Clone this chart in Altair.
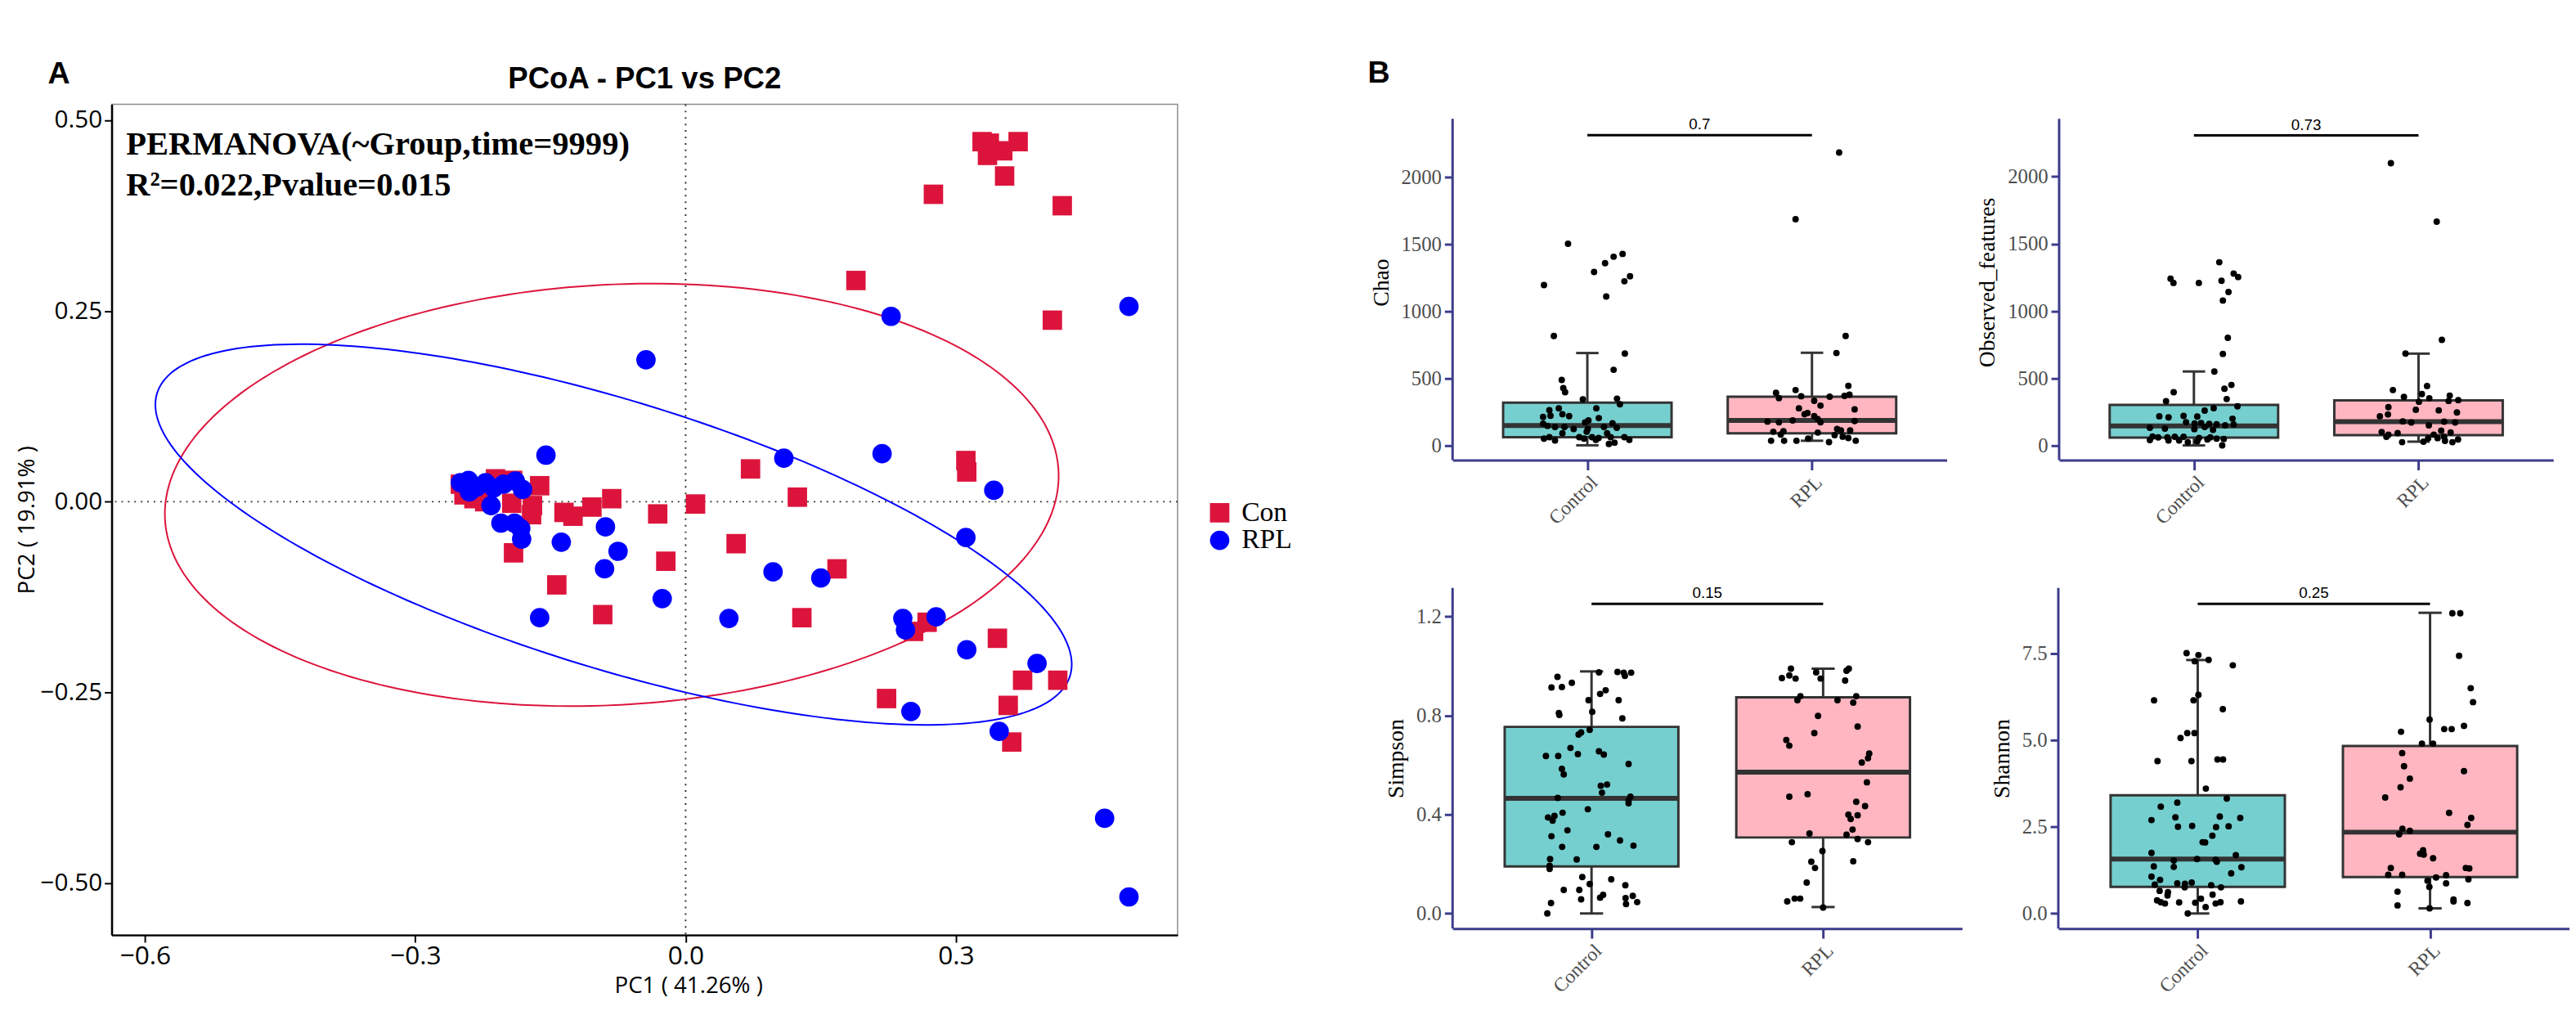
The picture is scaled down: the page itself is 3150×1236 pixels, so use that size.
import altair as alt
import numpy as np
import pandas as pd

RED = "#DC143C"
BLUE = "#0000FF"
NAVY = "#3C3C8C"
TEAL = "#76CFCF"
PINK = "#FFB6C1"
DARK = "#333333"

# ---------------- Panel A data (PCoA) ----------------
groups = ["Con", "RPL"]
con_x = [0.329, 0.337, 0.369, 0.352, 0.335, 0.354, 0.275, 0.418,
         0.189, 0.407, 0.311, 0.312, 0.072, 0.124, 0.011, -0.031, 0.056, -0.022, 0.168, 0.129,
         0.253, 0.268, 0.346, 0.374, 0.413, 0.223, 0.358, 0.362,
         -0.250, -0.211, -0.192, -0.162, -0.246, -0.235, -0.223, -0.193, -0.170, -0.171,
         -0.135, -0.125, -0.104, -0.082, -0.191, -0.143, -0.092]
con_y = [0.472, 0.470, 0.472, 0.460, 0.454, 0.427, 0.403, 0.388,
         0.290, 0.238, 0.054, 0.039, 0.043, 0.006, -0.003, -0.016, -0.055, -0.078, -0.088, -0.152,
         -0.170, -0.158, -0.179, -0.234, -0.234, -0.258, -0.267, -0.315,
         0.023, 0.030, 0.028, 0.021, 0.009, 0.004, 0.000, -0.002, -0.005, -0.017,
         -0.014, -0.019, -0.007, 0.004, -0.067, -0.109, -0.148]
rpl_x = [0.492, 0.228, -0.044, 0.218, 0.109, 0.342, 0.311, 0.097, 0.150, -0.026,
         0.048, 0.241, 0.244, 0.278, 0.312, 0.390, 0.250, 0.348, 0.465, 0.492,
         -0.155, -0.250, -0.241, -0.232, -0.222, -0.213, -0.202, -0.189, -0.181, -0.240,
         -0.216, -0.205, -0.190, -0.183, -0.182, -0.138, -0.089, -0.075, -0.090, -0.162]
rpl_y = [0.256, 0.243, 0.186, 0.063, 0.057, 0.015, -0.047, -0.092, -0.100, -0.127,
         -0.153, -0.153, -0.168, -0.151, -0.194, -0.212, -0.275, -0.301, -0.415, -0.518,
         0.061, 0.025, 0.028, 0.019, 0.025, 0.018, 0.023, 0.027, 0.016, 0.013,
         -0.005, -0.028, -0.028, -0.035, -0.049, -0.053, -0.033, -0.065, -0.088, -0.152]

# ellipse parameters: centre, semi-axes, rotation (deg)
ell_con = {"cx": -0.082, "cy": 0.009, "a": 0.4969, "b": 0.2753, "angle": 4.17}
ell_rpl = {"cx": -0.080, "cy": -0.043, "a": 0.5397, "b": 0.1719, "angle": -20.7}

perm_lines = ["PERMANOVA(~Group,time=9999)", "R\u00b2=0.022,Pvalue=0.015"]
perm_x = [-0.621, -0.621]
perm_y = [0.455, 0.401]

# ---------------- Panel B data (alpha diversity) ----------------
chao_c_val = [1503, 1195, 815, 1292, 1358, 1406, 1427, 1260, 1223, 1109,
              684, 563, 487, 427, 396, 342, 348, 306, 276, 276,
              262, 211, 221, 231, 217, 203, 185, 171, 165, 161,
              145, 137, 137, 121, 137, 131, 121, 90, 101, 89,
              50, 60, 36, 60, 50, 60, 40, 54, 60, 20, 10, 60, 40]
chao_c_dx = [-0.086, -0.193, -0.149, 0.030, 0.079, 0.117, 0.157, 0.190, 0.165, 0.084,
             0.167, 0.117, -0.114, -0.107, -0.099, -0.020, 0.132, 0.145, 0.040, -0.127,
             -0.169, -0.197, -0.164, -0.111, -0.081, 0.051, 0.005, -0.010, 0.112, -0.197,
             -0.177, -0.144, -0.102, -0.061, 0.074, 0.131, 0.002, -0.111, -0.003, 0.088,
             -0.193, -0.169, -0.144, -0.036, -0.015, 0.021, 0.038, 0.050, 0.104, 0.121,
             0.096, 0.165, 0.187]
chao_r_val = [2183, 1686, 815, 688, 443, 412, 392, 352, 366, 332,
              362, 368, 378, 296, 276, 268, 241, 231, 217, 197,
              185, 177, 171, 171, 181, 121, 111, 111, 101, 105,
              95, 80, 76, 64, 54, 50, 34, 34, 34, 24, 34]
chao_r_dx = [0.121, -0.073, 0.150, 0.109, 0.162, -0.073, -0.160, -0.147, -0.048, 0.010,
             0.079, 0.145, 0.167, 0.038, -0.058, 0.190, -0.020, -0.033, 0.010, 0.025,
             -0.086, -0.198, -0.147, 0.038, 0.190, 0.112, 0.129, 0.170, -0.172, -0.127,
             0.026, -0.139, 0.101, 0.137, 0.162, -0.017, -0.182, -0.124, -0.069, 0.076, 0.195]

obs_c_val = [1363, 1241, 1209, 1209, 1225, 1279, 1253, 1141, 1078, 801,
             681, 550, 450, 422, 396, 345, 329, 291, 277, 259,
             217, 209, 219, 215, 199, 173, 155, 163, 167, 161,
             157, 149, 131, 125, 121, 137, 116, 66, 60, 60,
             64, 64, 56, 60, 50, 40, 36, 36, 24, 30, 44, 48, 0]
obs_c_dx = [0.113, -0.104, -0.091, 0.022, 0.123, 0.177, 0.197, 0.154, 0.129, 0.151,
            0.129, 0.091, 0.167, 0.136, -0.090, 0.146, -0.124, 0.194, 0.088, 0.048,
            -0.154, -0.113, -0.046, 0.015, 0.172, -0.035, 0.177, 0.003, 0.032, 0.068,
            0.101, 0.139, -0.196, -0.129, 0.002, 0.048, 0.085, -0.184, -0.159, -0.118,
            -0.085, -0.046, 0.023, 0.073, 0.101, -0.196, -0.113, -0.066, -0.027, 0.015,
            0.060, 0.133, 0.126]
obs_r_val = [2100, 1665, 785, 683, 442, 412, 361, 382, 351, 325,
             371, 331, 337, 285, 265, 261, 217, 231, 245, 179,
             171, 149, 177, 171, 100, 80, 92, 110, 96, 80,
             54, 64, 54, 64, 44, 24, 28, 34, 24]
obs_r_dx = [-0.123, 0.081, 0.104, -0.058, 0.038, -0.114, -0.065, 0.015, 0.048, 0.002,
            0.139, 0.134, 0.177, -0.134, -0.012, 0.090, -0.172, -0.136, 0.171, -0.070,
            -0.032, 0.046, 0.114, 0.163, -0.164, -0.134, -0.093, 0.101, 0.143, 0.068,
            0.043, -0.143, 0.085, 0.114, 0.176, -0.073, 0.022, 0.118, 0.151]

simp_c_val = [0.956, 0.913, 0.915, 0.932, 0.974, 0.976, 0.973, 0.973, 0.960, 0.902,
              0.887, 0.862, 0.862, 0.815, 0.810, 0.802, 0.788, 0.742, 0.731, 0.723,
              0.669, 0.644, 0.636, 0.636, 0.655, 0.642, 0.604, 0.584, 0.562, 0.521,
              0.516, 0.488, 0.467, 0.472, 0.456, 0.445, 0.421, 0.407, 0.394, 0.388,
              0.375, 0.336, 0.320, 0.312, 0.295, 0.269, 0.269, 0.274, 0.220, 0.218,
              0.193, 0.180, 0.147, 0.138, 0.119, 0.114, 0.095, 0.095, 0.075, 0.064,
              0.071, 0.062, 0.057, 0.046, 0.038, 0.042, 0.000]
simp_c_dx = [-0.147, -0.173, -0.128, -0.085, 0.032, 0.112, 0.139, 0.171, 0.144, 0.061,
             0.037, -0.013, 0.117, 0.003, -0.141, -0.139, 0.133, -0.008, -0.045, -0.056,
             -0.091, -0.059, -0.197, -0.144, 0.032, 0.053, 0.160, -0.128, -0.120, 0.067,
             0.040, 0.045, -0.146, 0.168, 0.160, 0.160, -0.016, -0.125, -0.160, -0.188,
             -0.168, -0.104, 0.071, -0.173, 0.123, -0.127, 0.021, 0.181, -0.179, -0.064,
             -0.181, -0.181, -0.040, 0.085, -0.008, 0.146, -0.120, -0.053, 0.050, 0.037,
             0.178, 0.147, -0.045, 0.197, 0.149, -0.175, -0.191]
simp_r_val = [0.989, 0.989, 0.974, 0.981, 0.951, 0.962, 0.949, 0.949, 0.941, 0.878,
              0.862, 0.862, 0.878, 0.852, 0.798, 0.755, 0.729, 0.701, 0.678, 0.646,
              0.627, 0.610, 0.530, 0.482, 0.472, 0.451, 0.434, 0.399, 0.397, 0.382,
              0.339, 0.323, 0.318, 0.301, 0.288, 0.288, 0.252, 0.209, 0.211, 0.184,
              0.125, 0.060, 0.049, 0.060, 0.024]
simp_r_dx = [-0.139, 0.111, -0.030, 0.101, -0.178, -0.146, -0.119, -0.011, 0.095, -0.098,
             -0.111, 0.062, 0.143, 0.130, -0.022, 0.149, -0.038, -0.159, -0.146, 0.199,
             0.194, 0.167, 0.189, -0.067, -0.146, 0.143, 0.181, 0.109, 0.149, 0.119,
             0.127, -0.059, 0.101, 0.149, -0.135, 0.194, -0.003, -0.051, 0.130, -0.035,
             -0.071, -0.123, -0.155, -0.099, 0.000]

shan_c_val = [7.508, 7.453, 7.275, 7.314, 7.158, 6.304, 6.149, 6.149, 5.893, 5.202,
              5.202, 5.062, 4.394, 4.394, 4.441, 4.441, 3.602, 3.315, 3.082, 3.199,
              2.694, 2.772, 2.795, 2.756, 2.500, 2.523, 2.492, 2.516, 2.244, 2.057,
              2.050, 1.747, 1.685, 1.530, 1.568, 1.545, 1.491, 1.359, 1.343, 1.335,
              1.157, 1.064, 0.970, 0.870, 0.854, 0.893, 0.753, 0.815, 0.753, 0.831,
              0.652, 0.613, 0.520, 0.543, 0.427, 0.380, 0.326, 0.287, 0.318, 0.311,
              0.287, 0.326, 0.349, 0.186, 0.000]
shan_c_dx = [-0.048, 0.003, -0.013, 0.047, 0.151, 0.003, -0.018, -0.188, 0.108, -0.045,
             -0.014, -0.074, -0.173, -0.027, 0.085, 0.109, 0.035, 0.125, -0.159, -0.088,
             -0.199, -0.096, 0.095, 0.183, -0.085, -0.024, 0.079, 0.133, 0.063, 0.021,
             0.032, -0.199, 0.164, -0.103, -0.003, 0.077, 0.082, -0.189, -0.103, 0.188,
             0.144, -0.199, -0.162, -0.088, -0.055, -0.026, -0.056, 0.058, 0.100, -0.185,
             -0.164, -0.128, -0.130, 0.064, 0.014, -0.175, -0.159, -0.141, -0.080, -0.011,
             0.077, 0.098, 0.186, 0.034, -0.043]
shan_r_val = [8.657, 8.657, 7.430, 6.498, 6.095, 5.590, 5.241, 5.318, 5.318, 5.411,
              4.899, 4.899, 4.627, 4.247, 4.107, 3.890, 3.641, 3.346, 2.904, 2.756,
              2.554, 2.446, 2.384, 2.283, 1.825, 1.724, 1.700, 1.592, 1.312, 1.312,
              1.297, 1.118, 1.118, 1.102, 1.040, 0.947, 0.986, 0.870, 0.769, 0.629,
              0.404, 0.349, 0.303, 0.233, 0.148]
shan_r_dx = [0.096, 0.130, 0.125, 0.175, 0.185, -0.002, -0.125, 0.061, 0.093, 0.146,
             -0.035, 0.013, -0.120, -0.112, 0.146, -0.087, -0.127, -0.193, 0.082, 0.177,
             0.161, -0.119, -0.087, -0.133, -0.030, -0.043, -0.027, 0.013, -0.169, 0.154,
             0.169, -0.180, -0.120, 0.069, 0.026, -0.011, 0.165, 0.069, -0.003, -0.140,
             0.101, 0.101, 0.161, -0.140, -0.002]

# box statistics [Control, RPL]: lower whisker, Q1, median, Q3, upper whisker
chao_stats = {"lo": [0, 34], "q1": [60, 90], "med": [147, 185], "q3": [318, 362], "hi": [688, 690]}
obs_stats = {"lo": [0, 28], "q1": [58, 76], "med": [145, 177], "q3": [301, 335], "hi": [550, 683]}
simp_stats = {"lo": [0.0, 0.026], "q1": [0.190, 0.307], "med": [0.465, 0.571], "q3": [0.754, 0.873], "hi": [0.978, 0.989]}
shan_stats = {"lo": [0.0, 0.148], "q1": [0.769, 1.048], "med": [1.568, 2.345], "q3": [3.408, 4.829], "hi": [7.31, 8.672]}

box_groups = ["Control", "RPL"]
box_fill = [TEAL, PINK]

# ---------------- Panel A chart ----------------
def ellipse_df(p, n=240):
    t = np.linspace(0, 2 * np.pi, n)
    th = np.radians(p["angle"])
    x = p["cx"] + p["a"] * np.cos(th) * np.cos(t) - p["b"] * np.sin(th) * np.sin(t)
    y = p["cy"] + p["a"] * np.sin(th) * np.cos(t) + p["b"] * np.cos(th) * np.sin(t)
    return pd.DataFrame({"x": x, "y": y, "i": np.arange(n)})


A_W, A_H = 1318, 1027
xA_scale = alt.Scale(domain=[-0.637, 0.546], nice=False, zero=False)
yA_scale = alt.Scale(domain=[-0.568, 0.521], nice=False, zero=False)
xA_axis = alt.Axis(values=[-0.6, -0.3, 0.0, 0.3], format=".1f", title="PC1 ( 41.26% )",
                   titleFont="Open Sans", titleFontSize=28, titleFontWeight="normal",
                   titleColor="black", titleX=713, titleY=63, titleAlign="center",
                   titleBaseline="middle",
                   labelFont="Open Sans", labelFontSize=32, labelColor="black", labelPadding=2,
                   domainColor="black", domainWidth=2.5, tickColor="black", tickWidth=2,
                   tickSize=9, grid=False)
yA_axis = alt.Axis(values=[-0.5, -0.25, 0.0, 0.25, 0.5], format=".2f", title="PC2 ( 19.91% )",
                   titleFont="Open Sans", titleFontSize=28, titleFontWeight="normal",
                   titleColor="black", titlePadding=2,
                   labelFont="Open Sans", labelFontSize=30, labelColor="black", labelPadding=3,
                   domainColor="black", domainWidth=2.5, tickColor="black", tickWidth=2,
                   tickSize=9, grid=False)


def XA(f="x"):
    return alt.X(f + ":Q", scale=xA_scale, axis=xA_axis)


def YA(f="y"):
    return alt.Y(f + ":Q", scale=yA_scale, axis=yA_axis)


zero_v = alt.Chart(pd.DataFrame({"x": [0.0]})).mark_rule(
    color=DARK, strokeDash=[2, 6], strokeWidth=2).encode(x=XA())
zero_h = alt.Chart(pd.DataFrame({"y": [0.0]})).mark_rule(
    color=DARK, strokeDash=[2, 6], strokeWidth=2).encode(y=YA())

ell_c = alt.Chart(ellipse_df(ell_con)).mark_line(color=RED, strokeWidth=2).encode(
    x=XA(), y=YA(), order="i:Q")
ell_r = alt.Chart(ellipse_df(ell_rpl)).mark_line(color=BLUE, strokeWidth=2).encode(
    x=XA(), y=YA(), order="i:Q")

pts = pd.DataFrame({
    "x": con_x + rpl_x,
    "y": con_y + rpl_y,
    "group": [groups[0]] * len(con_x) + [groups[1]] * len(rpl_x),
})
legA = alt.Legend(title=None, orient="none", legendX=1353, legendY=488, symbolSize=576,
                  labelFont="Liberation Serif", labelFontSize=34, labelColor="black",
                  rowPadding=-6, labelOffset=10, padding=0, symbolStrokeWidth=0)
points = alt.Chart(pts).mark_point(filled=True, size=576, opacity=1, strokeWidth=0).encode(
    x=XA(), y=YA(),
    color=alt.Color("group:N", scale=alt.Scale(domain=groups, range=[RED, BLUE]), legend=legA),
    shape=alt.Shape("group:N", scale=alt.Scale(domain=groups, range=["square", "circle"]), legend=legA),
)

perm = alt.Chart(pd.DataFrame({"x": perm_x, "y": perm_y, "t": perm_lines})).mark_text(
    align="left", baseline="alphabetic", font="Liberation Serif", fontSize=41,
    fontWeight="bold", color="black").encode(x=XA(), y=YA(), text="t:N")

labA = alt.Chart(pd.DataFrame({"t": ["A"]})).mark_text(
    align="left", baseline="alphabetic", font="Liberation Sans", fontSize=38,
    fontWeight="bold", color="black").encode(text="t:N", x=alt.value(-79), y=alt.value(-26))

titleA = alt.Chart(pd.DataFrame({"t": ["PCoA - PC1 vs PC2"]})).mark_text(
    align="center", baseline="alphabetic", font="Liberation Sans", fontSize=37,
    fontWeight="bold", color="black").encode(text="t:N", x=alt.value(A_W / 2), y=alt.value(-20))

panelA = alt.layer(zero_v, zero_h, ell_c, ell_r, points, perm, labA, titleA).properties(
    width=A_W, height=A_H,
    view=alt.ViewBackground(stroke="#8C8C8C", strokeWidth=1.5),
)


# ---------------- Panel B charts ----------------
def box_panel(title, c_val, c_dx, r_val, r_dx, stats, dom, ticks, fmt, sig_y, sig_lab,
              w, h, extra_px=0, letter=None):
    # extra_px: blank band above the axis line (keeps the row of panels level with panel A)
    per_px = (dom[1] - dom[0]) / h
    top = dom[1] + extra_px * per_px
    xs = alt.Scale(domain=[0.4, 2.6], nice=False, zero=False)
    ys = alt.Scale(domain=[dom[0], top], nice=False, zero=False)
    xax = alt.Axis(values=[1, 2], labelExpr="datum.value == 1 ? 'Control' : 'RPL'",
                   labelAngle=315, labelAlign="right", labelBaseline="top",
                   labelFont="Liberation Serif", labelFontSize=24, labelColor="#4D4D4D",
                   labelPadding=3, domainColor=NAVY, domainWidth=3, tickColor=NAVY,
                   tickWidth=3, tickSize=12, grid=False, title=None)
    yax = alt.Axis(values=ticks, format=fmt, title=title, titleFont="Liberation Serif",
                   titleFontSize=28, titleFontWeight="normal", titleColor="black",
                   titlePadding=10, labelFont="Liberation Serif", labelFontSize=25,
                   labelColor="#4D4D4D", labelPadding=4, domain=False,
                   tickColor=NAVY, tickWidth=3, tickSize=10, grid=False)

    def X(f):
        return alt.X(f + ":Q", scale=xs, axis=xax)

    def Y(f):
        return alt.Y(f + ":Q", scale=ys, axis=yax)

    st = pd.DataFrame(stats)
    st["pos"] = [1.0, 2.0]
    st["left"] = st["pos"] - 0.375
    st["right"] = st["pos"] + 0.375
    st["capl"] = st["pos"] - 0.05
    st["capr"] = st["pos"] + 0.05
    st["grp"] = box_groups

    dots = pd.DataFrame({"pos": [1 + d for d in c_dx] + [2 + d for d in r_dx],
                         "val": c_val + r_val})
    sig = pd.DataFrame({"a": [1.0], "b": [2.0], "m": [1.5], "y": [sig_y], "t": [sig_lab]})
    yline = pd.DataFrame({"xl": [0.4], "y0": [dom[0]], "y1": [dom[1]]})

    base = alt.Chart(st)
    axis_line = alt.Chart(yline).mark_rule(color=NAVY, strokeWidth=3).encode(
        x=X("xl"), y=Y("y0"), y2="y1:Q")
    whisk = base.mark_rule(color=DARK, strokeWidth=3).encode(x=X("pos"), y=Y("lo"), y2="hi:Q")
    cap_hi = base.mark_rule(color=DARK, strokeWidth=3).encode(x=X("capl"), x2="capr:Q", y=Y("hi"))
    cap_lo = base.mark_rule(color=DARK, strokeWidth=3).encode(x=X("capl"), x2="capr:Q", y=Y("lo"))
    box = base.mark_bar(stroke=DARK, strokeWidth=3, opacity=1).encode(
        x=X("left"), x2="right:Q", y=Y("q1"), y2="q3:Q",
        fill=alt.Fill("grp:N", scale=alt.Scale(domain=box_groups, range=box_fill), legend=None))
    med = base.mark_rule(color=DARK, strokeWidth=6).encode(x=X("left"), x2="right:Q", y=Y("med"))
    pt = alt.Chart(dots).mark_circle(size=64, color="black", opacity=1).encode(x=X("pos"), y=Y("val"))
    sbar = alt.Chart(sig).mark_rule(color="black", strokeWidth=3).encode(x=X("a"), x2="b:Q", y=Y("y"))
    stext = alt.Chart(sig).mark_text(font="Liberation Sans", fontSize=19, baseline="bottom",
                                     dy=-3, color="black").encode(x=X("m"), y=Y("y"), text="t:N")
    layers = [axis_line, whisk, cap_hi, cap_lo, box, med, pt, sbar, stext]
    if letter is not None:
        layers.append(alt.Chart(pd.DataFrame({"t": [letter]})).mark_text(
            align="left", baseline="alphabetic", font="Liberation Sans", fontSize=38,
            fontWeight="bold", color="black").encode(text="t:N", x=alt.value(-105), y=alt.value(-27)))
    return alt.layer(*layers).properties(width=w, height=h + extra_px,
                                         view=alt.ViewBackground(strokeWidth=0))


chao = box_panel("Chao", chao_c_val, chao_c_dx, chao_r_val, chao_r_dx, chao_stats,
                 [-111, 2434], [0, 500, 1000, 1500, 2000], "d", 2312, "0.7", 611, 422,
                 extra_px=18, letter="B")
obs = box_panel("Observed_features", obs_c_val, obs_c_dx, obs_r_val, obs_r_dx, obs_stats,
                [-110, 2430], [0, 500, 1000, 1500, 2000], "d", 2307, "0.73", 611, 422,
                extra_px=18)
simp = box_panel("Simpson", simp_c_val, simp_c_dx, simp_r_val, simp_r_dx, simp_stats,
                 [-0.061, 1.315], [0.0, 0.4, 0.8, 1.2], ".1f", 1.251, "0.15", 630, 421)
shan = box_panel("Shannon", shan_c_val, shan_c_dx, shan_r_val, shan_r_dx, shan_stats,
                 [-0.435, 9.387], [0.0, 2.5, 5.0, 7.5], ".1f", 8.929, "0.25", 632, 421)

row1 = alt.hconcat(chao, obs, spacing=37)
row2 = alt.hconcat(simp, shan, spacing=35)
gridB = alt.vconcat(row1, row2, spacing=71)

chart = alt.hconcat(panelA, gridB, spacing=233).properties(
    padding={"left": 10, "top": 57, "right": 0, "bottom": 0}
).configure_view(stroke="#8C8C8C", strokeWidth=1.5)

chart.save("out.html", embed_options={"renderer": "svg", "actions": False})
